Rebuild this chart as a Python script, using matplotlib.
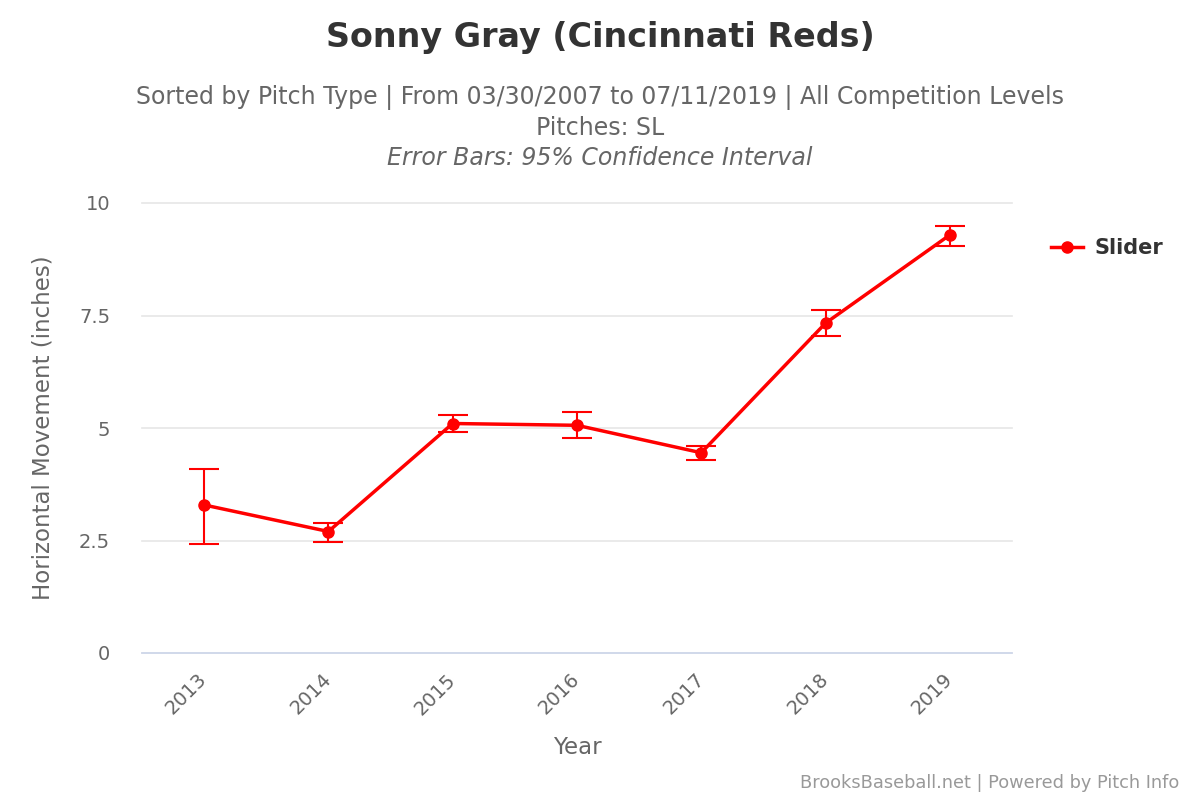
import numpy as np
import matplotlib
matplotlib.use("Agg")
import matplotlib.pyplot as plt

plt.rcParams['font.family'] = ['DejaVu Sans']

years = ['2013', '2014', '2015', '2016', '2017', '2018', '2019']
movement = [3.29, 2.70, 5.10, 5.06, 4.45, 7.33, 9.29]
ci_upper = [4.10, 2.90, 5.30, 5.36, 4.59, 7.62, 9.49]
ci_lower = [2.42, 2.46, 4.91, 4.78, 4.29, 7.04, 9.04]
y_ticks = [0, 2.5, 5, 7.5, 10]
y_tick_labels = ['0', '2.5', '5', '7.5', '10']

red = '#ff0000'
grey = '#666666'

fig = plt.figure(figsize=(12, 8), dpi=100)
ax = fig.add_axes([0.1183, 0.18375, 0.725, 0.5625])

x = np.arange(len(years))
y = np.array(movement)
yerr = np.array([y - np.array(ci_lower), np.array(ci_upper) - y])

ax.errorbar(x, y, yerr=yerr, fmt='none', ecolor=red, elinewidth=1.5,
            capsize=11, capthick=1.5, zorder=3)
ax.plot(x, y, color=red, lw=2.5, marker='o', ms=8, zorder=4, label='Slider')

ax.set_xlim(-0.5, len(years) - 0.5)
ax.set_ylim(0, 10)
ax.set_yticks(y_ticks)
ax.set_yticklabels(y_tick_labels)
ax.set_xticks(x)
ax.set_xticklabels(years, rotation=45, ha='right', va='center', rotation_mode='anchor')

ax.grid(axis='y', color='#e6e6e6', lw=1.2, clip_on=False)
ax.set_axisbelow(True)
for s in ['top', 'right', 'left']:
    ax.spines[s].set_visible(False)
ax.spines['bottom'].set_color('#ccd6eb')
ax.spines['bottom'].set_linewidth(1.2)
ax.tick_params(axis='both', length=0, labelsize=14, labelcolor=grey)
ax.tick_params(axis='y', pad=23)
ax.tick_params(axis='x', pad=17)

ax.set_ylabel('Horizontal Movement (inches)', fontsize=16.5, color=grey, va='center')
ax.yaxis.set_label_coords(-0.114, 0.5)
ax.set_xlabel('Year', fontsize=16.5, color=grey, va='center')
ax.xaxis.set_label_coords(0.5, -0.209)

fig.text(0.5, 0.953, 'Sonny Gray (Cincinnati Reds)', ha='center', va='center',
         fontsize=24, fontweight='bold', color='#333333')
fig.text(0.5, 0.878, 'Sorted by Pitch Type | From 03/30/2007 to 07/11/2019 | All Competition Levels',
         ha='center', va='center', fontsize=17, color=grey)
fig.text(0.5, 0.8405, 'Pitches: SL', ha='center', va='center', fontsize=17, color=grey)
fig.text(0.5, 0.803, 'Error Bars: 95% Confidence Interval', ha='center', va='center',
         fontsize=17, color=grey, style='italic')

fig.legend(loc='center left', bbox_to_anchor=(0.8605, 0.69), frameon=False,
           prop={'size': 15, 'weight': 'bold'}, labelcolor='#333333',
           handlelength=1.5, handletextpad=0.55)

fig.text(0.983, 0.021, 'BrooksBaseball.net | Powered by Pitch Info', ha='right',
         va='center', fontsize=12.8, color='#999999')

fig.savefig('out.png', dpi=100)
